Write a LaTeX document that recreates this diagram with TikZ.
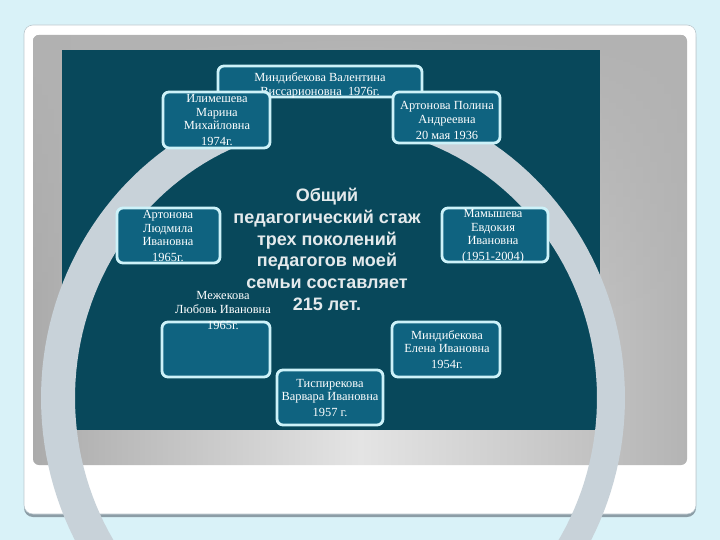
\documentclass[tikz,border=0pt]{standalone}
\usepackage{fontspec}
\setmainfont{Liberation Serif}
\newfontfamily\sansb{Liberation Sans}
\usetikzlibrary{fadings}
\definecolor{pagebg}{HTML}{D9F2F8}
\definecolor{frameshadow}{HTML}{8C9DA6}
\definecolor{frameline}{HTML}{BCC8CE}
\definecolor{panelside}{HTML}{ABABAB}
\definecolor{panelsideR}{HTML}{B4B4B4}
\definecolor{panelmid}{HTML}{E4E4E4}
\definecolor{paneltop}{HTML}{B2B2B2}
\definecolor{darkteal}{HTML}{08485B}
\definecolor{ringc}{HTML}{C8D2D9}
\definecolor{cardfill}{HTML}{0F6380}
\definecolor{cardline}{HTML}{CDF2F9}
\definecolor{centertxt}{HTML}{E4EAEC}
\begin{document}
\begin{tikzpicture}[x=1pt,y=-1pt,
  card/.style={draw=cardline, line width=2.8pt, rounded corners=6pt, fill=cardfill, inner sep=0pt},
  cardtxt/.style={text=white, align=center, anchor=north, inner sep=0pt, font=\fontsize{12.4}{13.2}\selectfont},
  bigtxt/.style={text=centertxt, align=center, anchor=north, inner sep=0pt, font=\sansb\bfseries\fontsize{18}{21.8}\selectfont}]
\useasboundingbox (0,0) rectangle (720,540);
\clip (0,0) rectangle (720,540);
\fill[pagebg] (0,0) rectangle (720,540);
% white frame
\fill[frameshadow, rounded corners=9pt] (24,28) rectangle (696,517);
\fill[white, draw=frameline, line width=0.6pt, rounded corners=9pt] (24,25) rectangle (696,514);
% grey panel
\begin{scope}
  \clip[rounded corners=6pt] (33,35) rectangle (687,465);
  \shade[left color=panelside, right color=panelsideR, middle color=panelmid] (33,35) rectangle (687,465);
  \fill[paneltop, path fading=south] (33,35) rectangle (687,330);
\end{scope}
% dark area
\fill[darkteal] (62,50) rectangle (600,430);
% circular band
\fill[ringc] plot[domain=285:614, samples=160, variable=\t] ({333+292*cos(\t)},{398+304*sin(\t)})
  -- plot[domain=614:285, samples=160, variable=\t] ({336+261*cos(\t)},{398+272*sin(\t)}) -- cycle;
% central text
\node[bigtxt] (center) at (327,188) {Общий\\педагогический стаж\\трех поколений\\педагогов моей\\семьи составляет\\215 лет.};
% top box
\node[card, minimum width=204pt, minimum height=31pt] (bV) at (320,81.5) {};
\node[cardtxt] (tV) at (320,72.5) {Миндибекова Валентина\\[1pt]Виссарионовна\ \ 1976г.};
% other boxes
\node[card, minimum width=107pt, minimum height=56pt] (bI) at (216.5,120) {};
\node[card, minimum width=107pt, minimum height=51pt] (bP) at (446.5,117.5) {};
\node[card, minimum width=103pt, minimum height=55pt] (bL) at (168.5,235.5) {};
\node[card, minimum width=106pt, minimum height=54pt] (bM) at (495,235) {};
\node[card, minimum width=108pt, minimum height=55pt] (bZ) at (216,349.5) {};
\node[card, minimum width=108pt, minimum height=55pt] (bE) at (446,349.5) {};
\node[card, minimum width=106pt, minimum height=55pt] (bT) at (330,397.5) {};
% texts
\node[cardtxt] (tI) at (217,94.5) {Илимешева\\Марина\\Михайловна\\[3pt]1974г.};
\node[cardtxt] (tP) at (447,101.5) {Артонова Полина\\Андреевна\\[3pt]20 мая 1936};
\node[cardtxt] (tL) at (168,210.5) {Артонова\\Людмила\\Ивановна\\[3pt]1965г.};
\node[cardtxt] (tM) at (493,209.5) {Мамышева\\Евдокия\\Ивановна\\[3pt](1951-2004)};
\node[cardtxt] (tZ) at (223,291.5) {Межекова\\Любовь Ивановна\\[3pt]1965г.};
\node[cardtxt] (tE) at (447,330) {Миндибекова\\Елена Ивановна\\[3pt]1954г.};
\node[cardtxt] (tT) at (330,379) {Тиспирекова\\Варвара Ивановна\\[3pt]1957 г.};
\end{tikzpicture}
\end{document}
